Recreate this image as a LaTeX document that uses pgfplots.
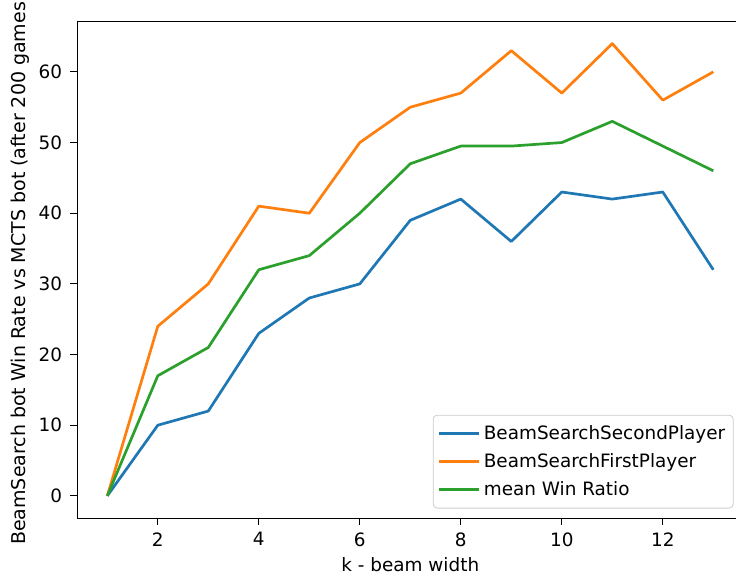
\documentclass[border=0pt]{standalone}
\usepackage{fontspec}
\setmainfont{DejaVu Sans}
\usepackage{pgfplots}
\pgfplotsset{compat=1.18}

\definecolor{tabblue}{HTML}{1F77B4}
\definecolor{taborange}{HTML}{FF7F0E}
\definecolor{tabgreen}{HTML}{2CA02C}

\begin{document}
\begin{tikzpicture}
\begin{axis}[
    scale only axis,
    width=333.3pt, height=248.75pt,
    xmin=0.4, xmax=13.6,
    ymin=-3.2, ymax=67.2,
    xtick={2,4,...,12},
    ytick={0,10,...,60},
    tick align=outside,
    tick pos=left,
    major tick length=3.25pt,
    every tick/.style={black, line width=0.45pt},
    axis line style={line width=0.45pt},
    font=\fontsize{9.2}{11}\selectfont,
    /pgf/number format/assume math mode=true,
    tick label style={inner sep=0pt, font=\fontsize{9.2}{11}\selectfont},
    yticklabel style={xshift=-4pt},
    xticklabel style={yshift=-3.5pt},
    xlabel={k - beam width},
    ylabel={BeamSearch bot Win Rate vs MCTS bot (after 200 games)},
    xlabel style={at={(axis description cs:0.5,-0.0925)}, anchor=center, inner sep=0pt},
    ylabel style={at={(axis description cs:-0.0855,0.5)}, anchor=center, inner sep=0pt,
                  font=\fontsize{9.5}{11}\selectfont},
    legend cell align=left,
    legend style={at={(rel axis cs:0.985,0.02)}, anchor=south east,
                  draw=black!20, rounded corners=2pt,
                  inner xsep=2pt, inner ysep=3pt,
                  row sep=1.5pt,
                  font=\fontsize{9.2}{11}\selectfont},
    legend image code/.code={\draw[#1] (0pt,0pt) -- (20pt,0pt);},
    every axis plot/.append style={line width=1.35pt, line join=round},
  ]
  \addplot[tabblue] coordinates {
    (1,0) (2,10) (3,12) (4,23) (5,28) (6,30) (7,39) (8,42) (9,36) (10,43) (11,42) (12,43) (13,32)};
  \addplot[taborange] coordinates {
    (1,0) (2,24) (3,30) (4,41) (5,40) (6,50) (7,55) (8,57) (9,63) (10,57) (11,64) (12,56) (13,60)};
  \addplot[tabgreen] coordinates {
    (1,0) (2,17) (3,21) (4,32) (5,34) (6,40) (7,47) (8,49.5) (9,49.5) (10,50) (11,53) (12,49.5) (13,46)};
  \legend{BeamSearchSecondPlayer, BeamSearchFirstPlayer, mean Win Ratio}
\end{axis}
\pgfresetboundingbox
\path[use as bounding box] (-38.5pt,-29.5pt) rectangle (329.5pt,259.25pt);
\end{tikzpicture}
\end{document}
